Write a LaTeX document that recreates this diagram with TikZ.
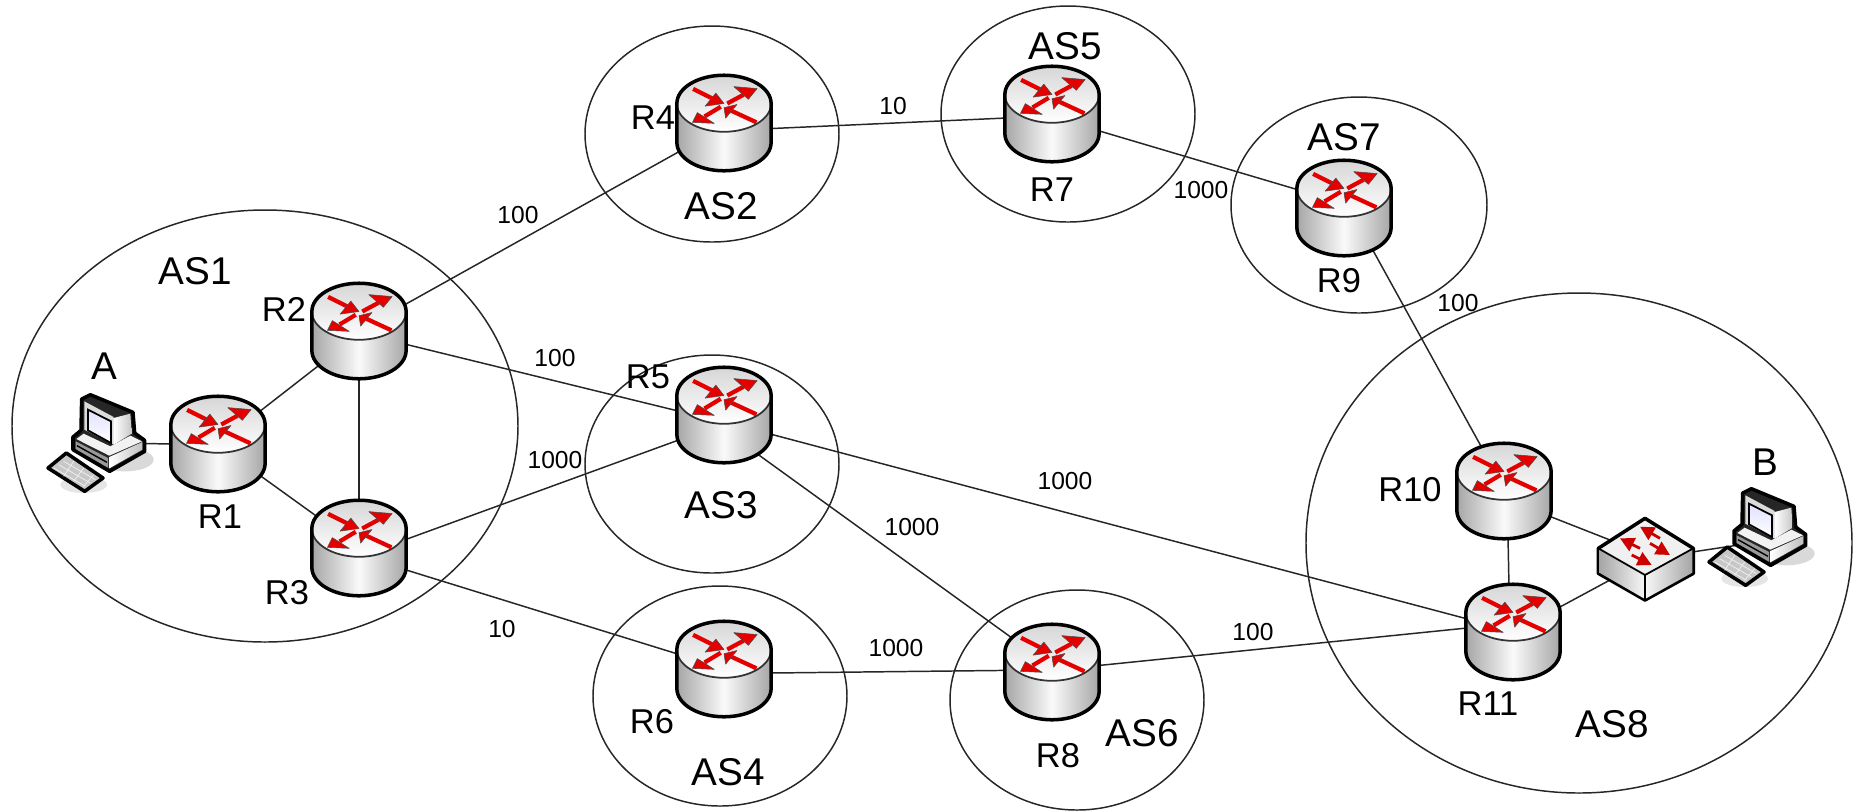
\documentclass[tikz,border=0pt]{standalone}
\usepackage{fontspec}
\setmainfont{Liberation Sans}
\usetikzlibrary{arrows.meta}
\usetikzlibrary{backgrounds}

\tikzset{
  netlink/.style={black!85, line width=.42pt},
  asring/.style={black!85, line width=.42pt},
  asname/.style={font=\fontsize{11}{13}\selectfont, inner sep=0pt},
  bigname/.style={font=\fontsize{9.8}{12}\selectfont, inner sep=0pt},
  costname/.style={font=\fontsize{7}{9}\selectfont, inner sep=0pt},
  redhead/.style={fill=red!90!black, draw=black!70, line width=.15pt, line join=round},
  redtail/.style={draw=red!90!black, line width=1.2pt},
  swarrow/.style={red!80!black, line width=.8pt, -{Triangle[length=4pt,width=4pt]}},
  routercore/.style={circle, minimum size=.92cm, inner sep=0pt, outer sep=0pt},
  swcore/.style={rectangle, minimum width=.7cm, minimum height=.4cm, inner sep=0pt, outer sep=0pt},
  pccore/.style={rectangle, minimum width=.4cm, minimum height=.5cm, inner sep=0pt, outer sep=0pt},
  routerpic/.pic={
    \begin{scope}[scale=.325]
    \shade[left color=black!35, right color=black!35, middle color=black!2]
      (-145,-60) .. controls (-145,-108) and (-80,-147) .. (0,-147) .. controls (80,-147) and (145,-108) .. (145,-60)
      -- (145,60) .. controls (145,108) and (80,147) .. (0,147) .. controls (-80,147) and (-145,108) .. (-145,60) -- cycle;
    \draw[black!80, line width=.5pt, top color=black!16, bottom color=white] (0,-60) ellipse [x radius=145, y radius=87];
    % four arrows on the lid
    \draw[redtail] (-95,-105)--(-35,-75);
    \draw[redhead] (-58,-52)--(0,-60)--(-25,-92)--cycle;
    \draw[redtail] (10,-60)--(60,-87);
    \draw[redhead] (30,-112)--(102,-106)--(75,-73)--cycle;
    \draw[redtail] (-10,-50)--(-60,-20);
    \draw[redhead] (-82,-32)--(-97,-2)--(-30,1)--cycle;
    \draw[redtail] (100,-2)--(22,-38);
    \draw[redhead] (40,-57)--(0,-47)--(5,-15)--cycle;
    \draw[black, line width=1pt]
      (-145,-60) .. controls (-145,-108) and (-80,-147) .. (0,-147) .. controls (80,-147) and (145,-108) .. (145,-60)
      -- (145,60) .. controls (145,108) and (80,147) .. (0,147) .. controls (-80,147) and (-145,108) .. (-145,60) -- cycle;
    \end{scope}
  },
  swpic/.pic={
    \begin{scope}[scale=1/3]
    \draw[black, line width=1pt, line join=round, fill=black!6] (0,-125)--(145,-35)--(145,40)--(0,120)--(-140,40)--(-140,-35)--cycle;
    \shade[left color=black!35, right color=black!3] (-137,-33)--(0,45)--(0,117)--(-137,38)--cycle;
    \shade[left color=black!3, right color=black!35] (0,45)--(142,-33)--(142,38)--(0,117)--cycle;
    \draw[black, line width=.5pt] (-140,-35)--(0,45)--(145,-35) (0,45)--(0,120);
    \draw[swarrow] (45,-65)--(-15,-100);
    \draw[swarrow] (-15,-35)--(-75,-65);
    \draw[swarrow] (15,-50)--(75,-15);
    \draw[swarrow] (-40,-15)--(20,15);
    \end{scope}
  },
  pcpic/.pic={
    \begin{scope}[scale=1/3]
    \fill[black!15] (85,50) ellipse [x radius=85, y radius=35];
    \fill[black!10] (-40,125) ellipse [x radius=70, y radius=25];
    % keyboard
    \draw[black, line width=1pt, line join=round, fill=black!22] (-147,75)--(-92,30)--(18,105)--(-37,145)--cycle;
    \draw[black!5, line width=.2pt] (-130,75)--(-35,130) (-115,65)--(-20,120) (-100,55)--(-5,110);
    \draw[black!5, line width=.2pt] (-100,100)--(-70,55) (-70,115)--(-40,75) (-40,130)--(-10,95);
    % case and monitor
    \draw[black, line width=1pt, line join=round, fill=black!85] (-46,-132)--(-20,-145)--(108,-92)--(113,-30)--(143,-8)--(143,25)--(38,85)--(-72,20)--(-72,-18)--(-48,-38)--cycle;
    \shade[left color=white, right color=black!22] (50,-75)--(100,-88)--(104,-28)--(50,5)--cycle;
    \fill[black!14] (-38,-125)--(50,-78)--(50,5)--(-38,-40)--cycle;
    \draw[black, line width=.5pt, top color=blue!12, bottom color=white] (-27,-100)--(42,-65)--(42,0)--(-27,-38)--cycle;
    \fill[black!5] (-62,-12)--(-40,-28)--(40,10)--(100,-22)--(135,-5)--(37,38)--cycle;
    \shade[left color=white, right color=black!25] (37,42)--(136,-3)--(136,20)--(37,76)--cycle;
    \fill[black!40] (-64,-5)--(33,45)--(33,74)--(-64,18)--cycle;
    \draw[black, line width=.4pt] (-60,8)--(30,58);
    \end{scope}
  }
}

\begin{document}
\begin{tikzpicture}[x=.01cm, y=-.01cm]
\useasboundingbox (0,0) rectangle (1853,811);

\node[routercore] (R1) at (218,444) {};
\node[routercore] (R2) at (359,331) {};
\node[routercore] (R3) at (359,548) {};
\node[routercore] (R4) at (724,123) {};
\node[routercore] (R5) at (724,415) {};
\node[routercore] (R6) at (724,669) {};
\node[routercore] (R7) at (1052,114) {};
\node[routercore] (R8) at (1052,672) {};
\node[routercore] (R9) at (1344,208) {};
\node[routercore] (R10) at (1504,491) {};
\node[routercore] (R11) at (1513,632) {};
\foreach \r in {R1,R2,R3,R4,R5,R6,R7,R8,R9,R10,R11}
  \pic at (\r) {routerpic};

\node[swcore] (SW) at (1645,560) {};
\node[pccore] (PCA) at (97,443) {};
\node[pccore] (PCB) at (1758,537) {};
\pic at (SW) {swpic};
\pic at (PCA) {pcpic};
\pic at (PCB) {pcpic};

\begin{scope}[on background layer]
\draw[asring] (265,426) ellipse [x radius=253, y radius=216];
\draw[asring] (712,134) ellipse [x radius=127, y radius=108];
\draw[asring] (712,464) ellipse [x radius=127, y radius=109];
\draw[asring] (720,696) ellipse [x radius=127, y radius=110];
\draw[asring] (1068,114) ellipse [x radius=127, y radius=108];
\draw[asring] (1077,700) ellipse [x radius=127, y radius=110];
\draw[asring] (1359,205) ellipse [x radius=128, y radius=108];
\draw[asring] (1579,543) ellipse [x radius=273, y radius=250];

\draw[netlink] (PCA.east)--(R1.180);
\draw[netlink] (R1.38)--(R2.221);
\draw[netlink] (R1.-37)--(R3.143);
\draw[netlink] (R2.south)--(R3.north);
\draw[netlink] (R2.30)--(R4.213);
\draw[netlink] (R2.-16)--(R5.175);
\draw[netlink] (R3.10)--(R5.210);
\draw[netlink] (R3.-26)--(R6.162);
\draw[netlink] (R4.-7)--(R7.185);
\draw[netlink] (R7.-20)--(R9.158);
\draw[netlink] (R9.-55)--(R10.117);
\draw[netlink] (R5.-23)--(R11.164);
\draw[netlink] (R5.-51)--(R8.139);
\draw[netlink] (R6.-5)--(R8.178);
\draw[netlink] (R8.8)--(R11.175);
\draw[netlink] (R10.-85)--(R11.95);
\draw[netlink] (R10.-30)--(SW.north west);
\draw[netlink] (R11.28)--(SW.south west);
\draw[netlink] (SW.10)--(PCB.202);
\end{scope}

\node[asname] (nAS1) at (195,271) {AS1};
\node[asname] (nAS2) at (721,206) {AS2};
\node[asname] (nAS3) at (721,505) {AS3};
\node[asname] (nAS4) at (728,772) {AS4};
\node[asname] (nAS5) at (1065,46) {AS5};
\node[asname] (nAS6) at (1142,733) {AS6};
\node[asname] (nAS7) at (1344,137) {AS7};
\node[asname] (nAS8) at (1612,724) {AS8};
\node[asname] (nA) at (104,366) {A};
\node[asname] (nB) at (1765,462) {B};
\node[bigname] (nR1) at (220,517) {R1};
\node[bigname] (nR2) at (284,309) {R2};
\node[bigname] (nR3) at (287,593) {R3};
\node[bigname] (nR4) at (653,118) {R4};
\node[bigname] (nR5) at (648,377) {R5};
\node[bigname] (nR6) at (652,722) {R6};
\node[bigname] (nR7) at (1052,190) {R7};
\node[bigname] (nR8) at (1058,756) {R8};
\node[bigname] (nR9) at (1339,281) {R9};
\node[bigname] (nR10) at (1410,490) {R10};
\node[bigname] (nR11) at (1488,704) {R11};

\node[costname] (c24) at (518,215) {100};
\node[costname] (c25) at (555,358) {100};
\node[costname] (c35) at (555,460) {1000};
\node[costname] (c36) at (502,629) {10};
\node[costname] (c47) at (893,106) {10};
\node[costname] (c68) at (896,648) {1000};
\node[costname] (c58) at (912,527) {1000};
\node[costname] (c511) at (1065,481) {1000};
\node[costname] (c811) at (1253,632) {100};
\node[costname] (c79) at (1201,190) {1000};
\node[costname] (c910) at (1458,303) {100};
\end{tikzpicture}
\end{document}
